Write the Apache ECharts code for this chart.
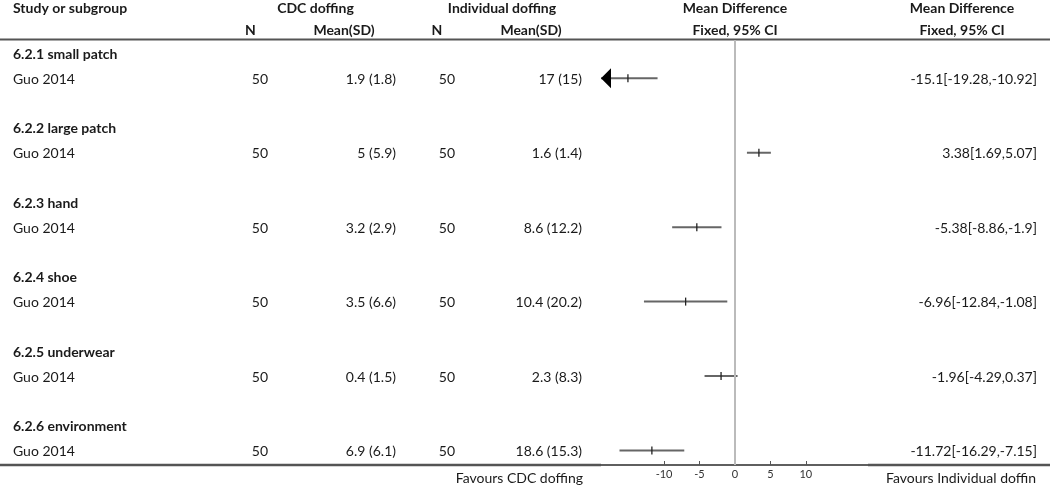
<!DOCTYPE html>
<html><head><meta charset="utf-8">
<script src="https://cdn.jsdelivr.net/npm/echarts@6/dist/echarts.min.js"></script>
<style>html,body{margin:0;padding:0;background:#fff}#c{width:1050px;height:487px}</style>
</head><body><div id="c"></div>
<script>
// ---- data ----
const subgroups = ['6.2.1 small patch', '6.2.2 large patch', '6.2.3 hand', '6.2.4 shoe', '6.2.5 underwear', '6.2.6 environment'];
const studies = ['Guo 2014', 'Guo 2014', 'Guo 2014', 'Guo 2014', 'Guo 2014', 'Guo 2014'];
const cdcN = [50, 50, 50, 50, 50, 50];
const cdcMeanSD = ['1.9 (1.8)', '5 (5.9)', '3.2 (2.9)', '3.5 (6.6)', '0.4 (1.5)', '6.9 (6.1)'];
const indN = [50, 50, 50, 50, 50, 50];
const indMeanSD = ['17 (15)', '1.6 (1.4)', '8.6 (12.2)', '10.4 (20.2)', '2.3 (8.3)', '18.6 (15.3)'];
const md = [-15.1, 3.38, -5.38, -6.96, -1.96, -11.72];
const ciLow = [-19.28, 1.69, -8.86, -12.84, -4.29, -16.29];
const ciHigh = [-10.92, 5.07, -1.9, -1.08, 0.37, -7.15];
const tickValues = [-10, -5, 0, 5, 10];
const favoursLeft = 'Favours CDC doffing';
const favoursRight = 'Favours Individual doffin';

// ---- layout ----
const FONT = 'Lato';
const FS = 14;
const TXT = '#1a1a1a';
const X_MIN = -18.9, X_MAX = 18.9;
const COL = {study: 13, cdcN: 268, cdcMean: 396, indN: 455, indMean: 582, md: 1037};

const tableData = [];
subgroups.forEach((s, i) => {
  tableData.push([0, 3 * i, 0, i]);
  tableData.push([0, 3 * i + 1, 1, i]);
});
const forestData = md.map((m, i) => [m, 3 * i + 1, ciLow[i], ciHigh[i], i]);

function txt(text, x, y, align, bold, size, color) {
  return {type: 'text', silent: true, style: {text: text, x: x, y: y, align: align, verticalAlign: 'middle',
    fontFamily: FONT, fontSize: size || FS, fontWeight: bold ? 'bold' : 'normal', fill: color || TXT}};
}

const chart = echarts.init(document.getElementById('c'));
const option = {
  animation: false,
  grid: {left: 601, right: 181.1, top: 40, bottom: 22, containLabel: false},
  xAxis: {
    type: 'value', min: X_MIN, max: X_MAX, position: 'bottom',
    axisLine: {show: true, onZero: false, lineStyle: {color: '#555', width: 1.5}},
    axisTick: {show: true, inside: true, length: 4, customValues: tickValues, lineStyle: {color: '#555', width: 1}},
    axisLabel: {customValues: tickValues, fontFamily: FONT, fontSize: 11, color: '#333', margin: 4},
    splitLine: {show: false}
  },
  yAxis: {type: 'value', inverse: true, min: -0.544, max: 16.586, show: false},
  series: [
    {
      type: 'custom', silent: true, data: tableData, clip: false,
      renderItem: function (params, api) {
        const row = api.value(1), kind = api.value(2), g = api.value(3);
        const y = api.coord([0, row])[1] + 1;
        if (kind === 0) {
          return {type: 'group', children: [txt(subgroups[g], COL.study, y, 'left', true)]};
        }
        const label = md[g] + '[' + ciLow[g] + ',' + ciHigh[g] + ']';
        return {type: 'group', children: [
          txt(studies[g], COL.study, y, 'left'),
          txt(String(cdcN[g]), COL.cdcN, y, 'right'),
          txt(cdcMeanSD[g], COL.cdcMean, y, 'right'),
          txt(String(indN[g]), COL.indN, y, 'right'),
          txt(indMeanSD[g], COL.indMean, y, 'right'),
          txt(label, COL.md, y, 'right')
        ]};
      }
    },
    {
      type: 'custom', silent: true, data: forestData, clip: false,
      renderItem: function (params, api) {
        const est = api.value(0), row = api.value(1), lo = api.value(2), hi = api.value(3);
        const y = api.coord([0, row])[1];
        const loPx = api.coord([Math.max(lo, X_MIN), row])[0];
        const hiPx = api.coord([Math.min(hi, X_MAX), row])[0];
        const estPx = api.coord([est, row])[0];
        const ch = [
          {type: 'line', shape: {x1: loPx, y1: y, x2: hiPx, y2: y}, style: {stroke: '#666', lineWidth: 2}},
          {type: 'line', shape: {x1: estPx, y1: y - 4, x2: estPx, y2: y + 4}, style: {stroke: '#222', lineWidth: 1.3}}
        ];
        if (lo < X_MIN) {
          ch.push({type: 'polygon', shape: {points: [[loPx, y], [loPx + 10, y - 10], [loPx + 10, y + 10]]}, style: {fill: '#000'}});
        }
        if (hi > X_MAX) {
          ch.push({type: 'polygon', shape: {points: [[hiPx, y], [hiPx - 10, y - 10], [hiPx - 10, y + 10]]}, style: {fill: '#000'}});
        }
        return {type: 'group', children: ch};
      },
      markLine: {
        silent: true, symbol: 'none', label: {show: false},
        lineStyle: {color: '#bbb', width: 2, type: 'solid'},
        data: [{xAxis: 0}]
      }
    }
  ],
  graphic: [
    txt('Study or subgroup', 13, 8, 'left', true),
    txt('CDC doffing', 315.5, 8, 'center', true),
    txt('Individual doffing', 502, 8, 'center', true),
    txt('Mean Difference', 735, 8, 'center', true),
    txt('Mean Difference', 962, 8, 'center', true),
    txt('N', 250.5, 30, 'center', true),
    txt('Mean(SD)', 344, 30, 'center', true),
    txt('N', 437, 30, 'center', true),
    txt('Mean(SD)', 531, 30, 'center', true),
    txt('Fixed, 95% CI', 735, 30, 'center', true),
    txt('Fixed, 95% CI', 962, 30, 'center', true),
    {type: 'line', silent: true, shape: {x1: 0, y1: 39.5, x2: 1050, y2: 39.5}, style: {stroke: '#555', lineWidth: 2}},
    {type: 'line', silent: true, z: 1, shape: {x1: 0, y1: 465, x2: 1050, y2: 465}, style: {stroke: '#555', lineWidth: 1.5}},
    {type: 'line', silent: true, shape: {x1: 0, y1: 465, x2: 601, y2: 465}, style: {stroke: '#555', lineWidth: 2.5}},
    {type: 'line', silent: true, shape: {x1: 868, y1: 465, x2: 1050, y2: 465}, style: {stroke: '#555', lineWidth: 2.5}},
    txt(favoursLeft, 583, 478, 'right', false),
    txt(favoursRight, 1036, 478, 'right', false)
  ]
};
chart.setOption(option);
</script>
</body></html>
